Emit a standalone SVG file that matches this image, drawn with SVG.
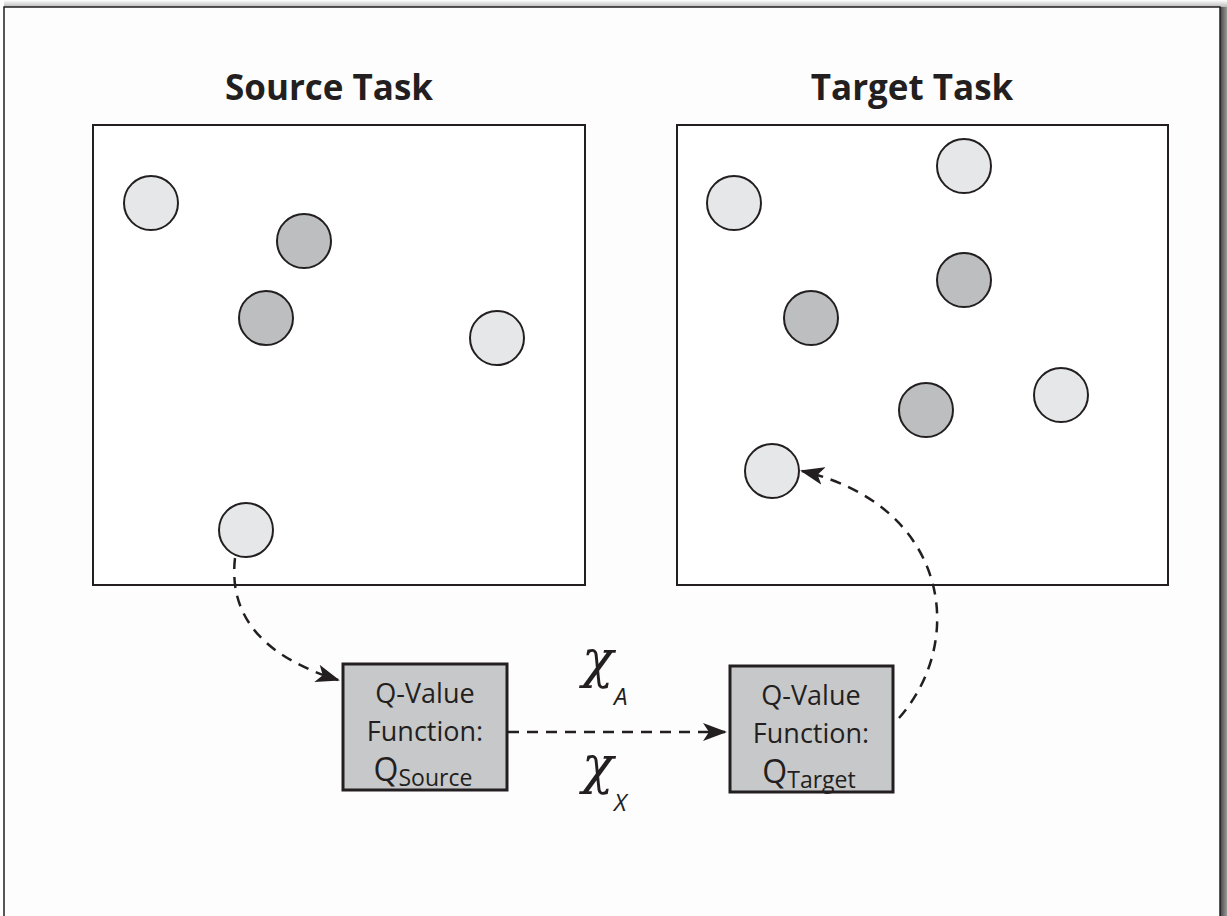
<svg xmlns="http://www.w3.org/2000/svg" width="1227" height="916" viewBox="0 0 1227 916">
<defs>
<linearGradient id="sh" x1="0" x2="1" y1="0" y2="0">
<stop offset="0" stop-color="#444"/><stop offset="1" stop-color="#999"/>
</linearGradient>
<linearGradient id="shTop" x1="0" x2="0" y1="0" y2="1">
<stop offset="0" stop-color="#fff"/><stop offset="1" stop-color="#bbb"/>
</linearGradient>
<marker id="ah" viewBox="0 0 24 18" refX="22" refY="9" markerWidth="24" markerHeight="18" markerUnits="userSpaceOnUse" orient="auto">
<path d="M0,0 L24,9 L0,18 L6,9 Z" fill="#231f20"/>
</marker>
<style>
.title{font-family:"Open Sans","Liberation Sans",sans-serif;font-weight:bold;font-size:35px;fill:#231f20;text-anchor:middle}
.task{fill:#fff;stroke:#231f20;stroke-width:2}
.lt{fill:#e6e7e8;stroke:#231f20;stroke-width:2}
.dk{fill:#bcbec0;stroke:#231f20;stroke-width:2}
.qbox{fill:#c7c8ca;stroke:#231f20;stroke-width:3}
.qt{font-family:"Open Sans","Liberation Sans",sans-serif;font-size:27px;fill:#231f20;text-anchor:middle}
.chi{font-family:"DejaVu Serif","Liberation Serif",serif;font-style:italic;font-size:52px;fill:#231f20}
.sub{font-family:"Open Sans","Liberation Sans",sans-serif;font-style:italic;font-size:24px;fill:#231f20}
.conn{fill:none;stroke:#231f20;stroke-width:2.5;stroke-dasharray:11 8}
</style>
</defs>
<rect x="0" y="0" width="1227" height="916" fill="#fff"/>
<rect x="4" y="0" width="1223" height="7" fill="url(#shTop)"/>
<rect x="1220" y="7" width="7" height="909" fill="url(#sh)"/>
<path d="M4,916 V7 H1220 V916" fill="#fdfdfd" stroke="#231f20" stroke-width="1.5"/>

<g id="source-task">
<text class="title" x="329" y="100">Source Task</text>
<rect class="task" x="93" y="125" width="492" height="460"/>
<circle class="lt" cx="151" cy="203" r="27"/>
<circle class="dk" cx="304" cy="241" r="27"/>
<circle class="dk" cx="266" cy="318" r="27"/>
<circle class="lt" cx="497" cy="338" r="27"/>
<circle class="lt" cx="246" cy="530" r="27"/>
</g>

<g id="target-task">
<text class="title" x="912" y="100">Target Task</text>
<rect class="task" x="677" y="125" width="491" height="460"/>
<circle class="lt" cx="964" cy="166" r="27"/>
<circle class="lt" cx="734" cy="203" r="27"/>
<circle class="dk" cx="964" cy="280" r="27"/>
<circle class="dk" cx="811" cy="318" r="27"/>
<circle class="lt" cx="1061" cy="395" r="27"/>
<circle class="dk" cx="926" cy="410" r="27"/>
<circle class="lt" cx="772" cy="471" r="27"/>
</g>

<g id="q-source">
<rect class="qbox" x="343" y="664" width="164" height="126"/>
<text class="qt" x="425" y="703">Q-Value</text>
<text class="qt" x="425" y="741">Function:</text>
<text class="qt" x="423" y="781"><tspan font-size="32">Q</tspan><tspan font-size="23" dy="5">Source</tspan></text>
</g>

<g id="q-target">
<rect class="qbox" x="730" y="666" width="163" height="126"/>
<text class="qt" x="811" y="705">Q-Value</text>
<text class="qt" x="811" y="743">Function:</text>
<text class="qt" x="809" y="783"><tspan font-size="32">Q</tspan><tspan font-size="23" dy="5">Target</tspan></text>
</g>

<g id="labels">
<text class="chi" x="582" y="677">χ</text><text class="sub" x="614" y="705">A</text>
<text class="chi" x="582" y="783">χ</text><text class="sub" x="614" y="811">X</text>
</g>

<g id="connectors">
<path class="conn" d="M235,558 C228,620 268,658 338,680" marker-end="url(#ah)"/>
<path class="conn" d="M508,732 L725,732" marker-end="url(#ah)"/>
<path class="conn" d="M899,718 C968,640 948,505 802,471" marker-end="url(#ah)"/>
</g>
</svg>
